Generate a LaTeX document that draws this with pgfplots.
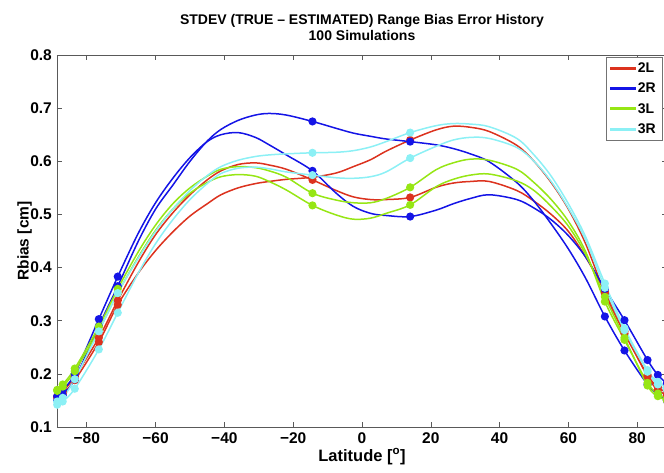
\documentclass[border=0pt]{standalone}
\usepackage{pgfplots}
\pgfplotsset{compat=1.18}
\usepackage{pgfplotstable}
\usepackage{fontspec}
\setmainfont{Liberation Sans}
\definecolor{cR}{RGB}{220,50,30}
\definecolor{cB}{RGB}{20,20,230}
\definecolor{cG}{RGB}{150,230,20}
\definecolor{cC}{RGB}{140,240,245}

\pgfplotstableread{
lat   B1    B2    R1    R2    G1    G2    C1    C2
-88.6 0.150 0.158 0.155 0.158 0.170 0.168 0.148 0.142
-87   0.160 0.170 0.163 0.167 0.180 0.176 0.155 0.148
-83.5 0.190 0.200 0.188 0.195 0.210 0.205 0.190 0.172
-76.5 0.290 0.303 0.260 0.268 0.289 0.282 0.280 0.246
-71   0.365 0.383 0.330 0.338 0.360 0.352 0.352 0.315
-65   0.450 0.465 0.390 0.410 0.430 0.420 0.418 0.390
-60   0.510 0.522 0.432 0.462 0.480 0.470 0.468 0.445
-55   0.555 0.568 0.467 0.503 0.520 0.510 0.510 0.490
-50   0.600 0.607 0.497 0.537 0.550 0.540 0.545 0.528
-45   0.638 0.637 0.520 0.565 0.572 0.560 0.573 0.558
-41   0.660 0.650 0.537 0.582 0.585 0.571 0.590 0.577
-36   0.677 0.654 0.550 0.594 0.590 0.575 0.602 0.587
-31   0.687 0.645 0.558 0.597 0.588 0.572 0.609 0.589
-27   0.690 0.631 0.562 0.593 0.582 0.562 0.612 0.586
-22   0.687 0.612 0.566 0.585 0.570 0.546 0.614 0.580
-14.4 0.675 0.582 0.570 0.565 0.540 0.517 0.616 0.574
-7.5  0.662 0.540 0.578 0.545 0.527 0.499 0.617 0.569
-2.5  0.653 0.515 0.590 0.533 0.522 0.491 0.620 0.568
2.5   0.647 0.502 0.603 0.528 0.522 0.493 0.627 0.571
7     0.642 0.498 0.619 0.528 0.530 0.502 0.637 0.580
14    0.637 0.496 0.640 0.532 0.551 0.518 0.654 0.606
21.5  0.631 0.508 0.659 0.551 0.584 0.552 0.667 0.628
26.5  0.624 0.520 0.666 0.559 0.597 0.566 0.671 0.640
31.5  0.614 0.530 0.664 0.562 0.604 0.574 0.670 0.645
37    0.599 0.537 0.656 0.562 0.602 0.576 0.665 0.643
45    0.560 0.528 0.630 0.545 0.585 0.563 0.643 0.626
50    0.525 0.512 0.600 0.525 0.560 0.545 0.612 0.600
55    0.482 0.490 0.560 0.500 0.528 0.515 0.572 0.562
60    0.435 0.460 0.510 0.468 0.487 0.478 0.520 0.512
65    0.380 0.420 0.445 0.420 0.430 0.425 0.458 0.452
70.6  0.308 0.360 0.352 0.355 0.336 0.345 0.370 0.362
76.3  0.244 0.301 0.276 0.280 0.264 0.268 0.286 0.282
83    0.180 0.226 0.198 0.195 0.183 0.178 0.207 0.204
86    0.162 0.198 0.175 0.170 0.163 0.158 0.185 0.180
88.6  0.150 0.182 0.165 0.160 0.153 0.150 0.175 0.170
}\data

\begin{document}
\begin{tikzpicture}
\useasboundingbox (-57pt,-45pt) rectangle (607pt,427pt);
\begin{axis}[
  scale only axis, width=610pt, height=372pt,
  xmin=-88.66, xmax=88.66, ymin=0.1, ymax=0.8,
  xtick={-80,-60,-40,-20,0,20,40,60,80},
  xticklabels={−80,−60,−40,−20,0,20,40,60,80},
  ytick={0.1,0.2,0.3,0.4,0.5,0.6,0.7,0.8},
  yticklabels={0.1,0.2,0.3,0.4,0.5,0.6,0.7,0.8},
  tick align=inside, major tick length=5pt,
  axis line style={black!65, line width=0.6pt},
  tick style={black!65, line width=0.6pt},
  font=\fontsize{14}{16}\selectfont\bfseries,
  ticklabel style={font=\fontsize{15.5}{17}\selectfont\bfseries},
  xticklabel style={inner sep=1pt, yshift=-4pt},
  yticklabel style={inner sep=1pt, xshift=-4pt},
  title={STDEV (TRUE – ESTIMATED) Range Bias Error History\\100 Simulations},
  title style={align=center, at={(axis description cs:0.5,1)}, anchor=south, inner sep=0pt, yshift=8pt},
  xlabel={Latitude [\textsuperscript{o}]},
  xlabel style={at={(axis description cs:0.5,-0.058)}, anchor=north, inner sep=0pt, font=\fontsize{16.5}{18}\selectfont\bfseries},
  legend style={at={(axis description cs:1,1)}, anchor=north east, xshift=-5pt, yshift=-2pt,
     draw=black!55, fill=white, inner xsep=4pt, inner ysep=3.5pt, row sep=5pt,
     font=\fontsize{14}{16}\selectfont\bfseries},
  legend cell align=left,
  legend image code/.code={\fill[#1] (0pt,-0.8pt) rectangle (24pt,0.8pt);},
  every axis plot/.append style={line width=1.5pt, smooth, tension=0.55, mark=*, mark size=3.3pt,
     mark indices={1,2,3,4,5,16,21,31,32,33,34,35}},
]
\addlegendimage{cR}
\addlegendentry{2L}
\addlegendimage{cB}
\addlegendentry{2R}
\addlegendimage{cG}
\addlegendentry{3L}
\addlegendimage{cC}
\addlegendentry{3R}
\addplot[cR, forget plot, mark options={fill=cR, draw=cR}] table[x=lat, y=R1] {\data};
\addplot[cR, forget plot, mark options={fill=cR, draw=cR}] table[x=lat, y=R2] {\data};
\addplot[cB, forget plot, mark options={fill=cB, draw=cB}] table[x=lat, y=B1] {\data};
\addplot[cB, forget plot, mark options={fill=cB, draw=cB}] table[x=lat, y=B2] {\data};
\addplot[cG, forget plot, mark options={fill=cG, draw=cG}] table[x=lat, y=G1] {\data};
\addplot[cG, forget plot, mark options={fill=cG, draw=cG}] table[x=lat, y=G2] {\data};
\addplot[cC, forget plot, mark options={fill=cC, draw=cC}] table[x=lat, y=C1] {\data};
\addplot[cC, forget plot, mark options={fill=cC, draw=cC}] table[x=lat, y=C2] {\data};
\end{axis}
\path (current axis.west) ++(-25pt,0pt) node[rotate=90, anchor=south, inner sep=0pt, font=\fontsize{15.5}{17}\selectfont\bfseries] {Rbias [cm]};
\end{tikzpicture}
\end{document}
